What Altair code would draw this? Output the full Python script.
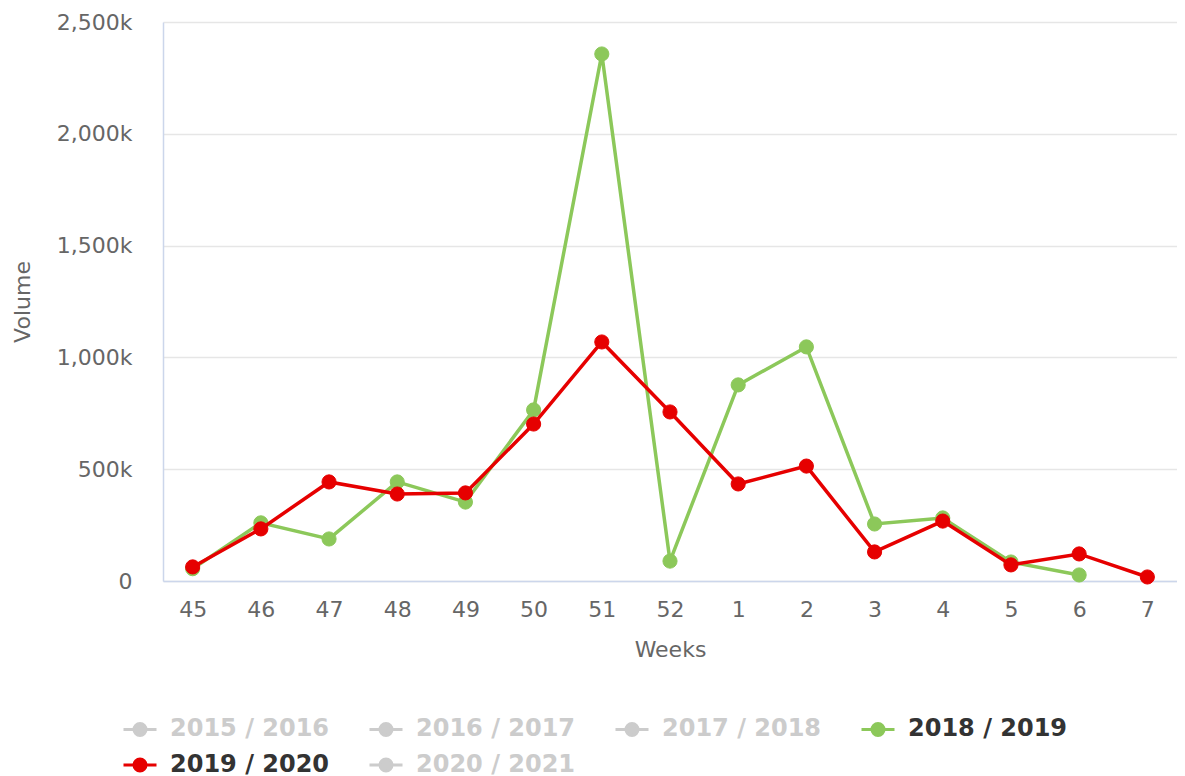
import altair as alt
import pandas as pd

weeks = ["45", "46", "47", "48", "49", "50", "51", "52", "1", "2", "3", "4", "5", "6", "7"]
series_names = ["2015 / 2016", "2016 / 2017", "2017 / 2018", "2018 / 2019", "2019 / 2020", "2020 / 2021"]
series_colors = ["#cccccc", "#cccccc", "#cccccc", "#8cc85a", "#e60000", "#cccccc"]

vol_2018_2019 = [55000, 260000, 188000, 443000, 353000, 765000, 2357000, 89000,
                 877000, 1047000, 255000, 282000, 85000, 27000]
vol_2019_2020 = [63000, 233000, 443000, 389000, 394000, 702000, 1069000, 756000,
                 434000, 514000, 130000, 268000, 72000, 121000, 18000]

rows = []
for w, v in zip(weeks, vol_2018_2019):
    rows.append({"series": "2018 / 2019", "week": w, "volume": v})
for w, v in zip(weeks, vol_2019_2020):
    rows.append({"series": "2019 / 2020", "week": w, "volume": v})
df = pd.DataFrame(rows)

FONT = "DejaVu Sans"

color_scale = alt.Scale(domain=series_names, range=series_colors)

legend = alt.Legend(
    title=None,
    orient="none",
    legendX=-41,
    legendY=689,
    direction="horizontal",
    columns=4,
    columnPadding=33,
    rowPadding=5,
    symbolType="M-1,0L1,0M0.364,0A0.364,0.364,0,1,1,-0.364,0A0.364,0.364,0,1,1,0.364,0Z",
    symbolSize=1089,
    symbolStrokeWidth=3,
    symbolOpacity=1,
    labelFont=FONT,
    labelFontSize=24,
    labelFontWeight="bold",
    labelOffset=12,
    labelLimit=400,
    labelColor=alt.ExprRef("datum.value == '2018 / 2019' || datum.value == '2019 / 2020' ? '#333333' : '#cccccc'"),
)

x_enc = alt.X(
    "week:N",
    sort=weeks,
    scale=alt.Scale(type="point", padding=0.435, align=0.5),
    axis=alt.Axis(
        title="Weeks",
        labelAngle=0,
        labelFont=FONT,
        labelFontSize=22,
        labelColor="#666666",
        labelPadding=18,
        titleFont=FONT,
        titleFontSize=22,
        titleFontWeight="normal",
        titleColor="#666666",
        titlePadding=19,
        domainColor="#ccd6eb",
        domainWidth=1.5,
        ticks=False,
        grid=False,
    ),
)
y_enc = alt.Y(
    "volume:Q",
    scale=alt.Scale(domain=[0, 2500000], nice=False),
    axis=alt.Axis(
        title="Volume",
        values=[0, 500000, 1000000, 1500000, 2000000, 2500000],
        labelExpr="datum.value == 0 ? '0' : format(datum.value / 1000, ',') + 'k'",
        labelFont=FONT,
        labelFontSize=22,
        labelColor="#666666",
        labelPadding=31,
        titleFont=FONT,
        titleFontSize=22,
        titleFontWeight="normal",
        titleColor="#666666",
        titlePadding=22,
        domainColor="#ccd6eb",
        domainWidth=1.5,
        ticks=False,
        gridColor="#e6e6e6",
        gridWidth=1.5,
    ),
)

def series_layers(name):
    base = alt.Chart(df).transform_filter(alt.datum.series == name)
    line = base.mark_line(strokeWidth=3.5).encode(
        x=x_enc, y=y_enc,
        stroke=alt.Stroke("series:N", scale=color_scale, legend=legend),
    )
    pts = base.mark_point(filled=True, size=200, opacity=1, strokeWidth=1).encode(
        x=x_enc, y=y_enc,
        fill=alt.Fill("series:N", scale=color_scale, legend=legend),
        stroke=alt.Stroke("series:N", scale=color_scale, legend=legend),
    )
    return [line, pts]

layers = series_layers("2018 / 2019") + series_layers("2019 / 2020")

chart = alt.layer(*layers).properties(
    width=1014,
    height=559,
    background="white",
    autosize=alt.AutoSizeParams(type="none"),
    padding={"left": 155, "top": 14, "right": 0, "bottom": 199},
).configure_view(stroke=None)

chart.save("out.html", embed_options={"renderer": "svg", "actions": False})
